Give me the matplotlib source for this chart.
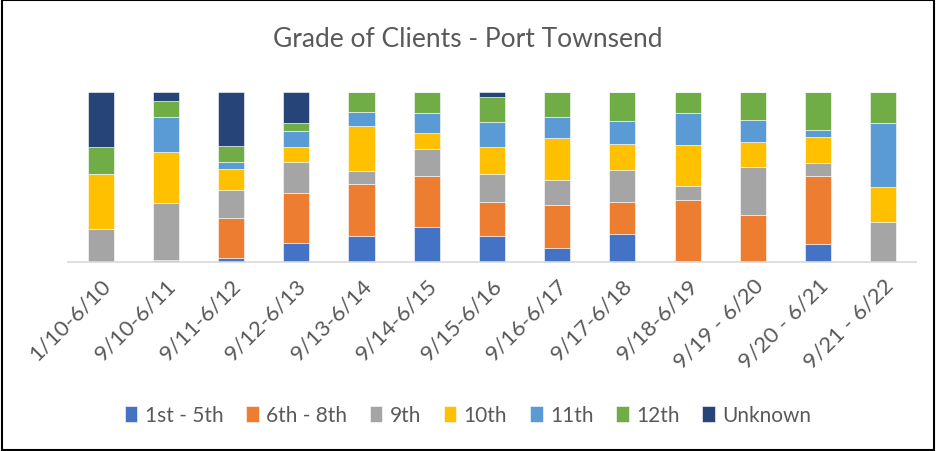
import numpy as np
import matplotlib
matplotlib.use("Agg")
import matplotlib.pyplot as plt
from matplotlib.patches import Rectangle

# school-year periods
periods = ["1/10-6/10", "9/10-6/11", "9/11-6/12", "9/12-6/13", "9/13-6/14",
           "9/14-6/15", "9/15-6/16", "9/16-6/17", "9/17-6/18", "9/18-6/19",
           "9/19 - 6/20", "9/20 - 6/21", "9/21 - 6/22"]

# share of clients per grade (%)
grade_1_5 = [0.0, 0.0, 2.2, 11.4, 15.6, 20.5, 15.6, 8.3, 16.4, 0.8, 0.0, 10.8, 0.0]
grade_6_8 = [0.0, 1.4, 23.5, 29.2, 30.2, 30.4, 19.9, 25.2, 19.1, 35.9, 27.8, 40.0, 0.0]
grade_9 = [19.5, 33.3, 16.8, 18.1, 7.9, 15.6, 16.4, 14.8, 18.5, 8.1, 28.4, 7.5, 23.7]
grade_10 = [32.1, 30.2, 12.2, 9.1, 26.4, 9.3, 16.0, 24.5, 15.6, 23.9, 14.4, 15.2, 20.3]
grade_11 = [0.0, 20.3, 4.3, 9.1, 8.1, 11.8, 14.8, 12.6, 13.6, 18.9, 12.8, 3.9, 38.1]
grade_12 = [16.2, 9.7, 9.3, 5.1, 11.8, 12.4, 14.8, 14.6, 16.8, 12.4, 16.6, 22.5, 17.9]
unknown = [32.1, 5.1, 31.8, 17.9, 0.0, 0.0, 2.6, 0.0, 0.0, 0.0, 0.0, 0.0, 0.0]

series_names = ["1st - 5th", "6th - 8th", "9th", "10th", "11th", "12th", "Unknown"]
series_vals = [grade_1_5, grade_6_8, grade_9, grade_10, grade_11, grade_12, unknown]
colors = ["#4472C4", "#ED7D31", "#A5A5A5", "#FFC000", "#5B9BD5", "#70AD47", "#264478"]

plt.rcParams['font.family'] = ['Lato', 'DejaVu Sans']

fig = plt.figure(figsize=(9.36, 4.52), dpi=100)
ax = fig.add_axes([0.0726, 0.418, 0.906, 0.376])

data = np.array(series_vals)
data = data / data.sum(axis=0) * 100
x = np.arange(len(periods))
bottom = np.zeros(len(periods))
for name, vals, c in zip(series_names, data, colors):
    ax.bar(x, vals, 0.4, bottom=bottom, color=c, label=name,
           edgecolor="white", linewidth=0.4)
    bottom += vals

ax.set_xlim(-0.5, len(periods) - 0.5)
ax.set_ylim(0, 100)
ax.set_yticks([])
for s in ["top", "right", "left"]:
    ax.spines[s].set_visible(False)
ax.spines["bottom"].set_color("#D9D9D9")
ax.spines["bottom"].set_linewidth(1.2)
ax.set_xticks(x)
ax.set_xticklabels(periods, rotation=45, ha="right", rotation_mode="anchor",
                   fontsize=16, color="#595959")
ax.tick_params(axis="x", length=0, pad=9)

fig.suptitle("Grade of Clients - Port Townsend", y=0.94, fontsize=19, color="#595959")

fig.legend(loc="center", bbox_to_anchor=(0.5, 0.08), ncol=7, frameon=False,
           fontsize=15, labelcolor="#595959", handlelength=0.6, handleheight=0.8,
           handletextpad=0.35, columnspacing=1.1)

fig.patches.append(Rectangle((0.002, 0.003), 0.996, 0.994, transform=fig.transFigure,
                             fill=False, edgecolor="black", linewidth=1.5))

fig.savefig("out.png", dpi=100)
